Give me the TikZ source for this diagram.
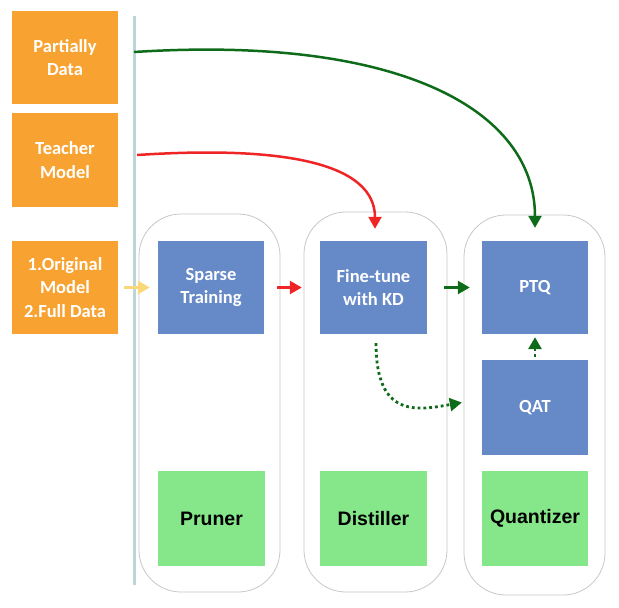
\documentclass[tikz,border=0pt]{standalone}
\usepackage{fontspec}
\newfontfamily\calfont{Carlito}
\newfontfamily\helfont{Liberation Sans}
\usetikzlibrary{arrows.meta}
\definecolor{orangebox}{HTML}{F8A331}
\definecolor{bluebox}{HTML}{6689C8}
\definecolor{greenbox}{HTML}{85E68A}
\definecolor{darkgreen}{HTML}{0E6B1A}
\definecolor{redline}{HTML}{EE2524}
\definecolor{yellowline}{HTML}{FAD87A}
\definecolor{barline}{HTML}{BCD6D8}
\tikzset{
  inbox/.style={fill=orangebox, text=white, font=\calfont\bfseries\fontsize{18.5}{23.5}\selectfont, align=center, minimum width=106pt, inner sep=0pt},
  stepbox/.style={fill=bluebox, text=white, font=\calfont\bfseries\fontsize{18.5}{23.5}\selectfont, align=center, minimum width=106pt, inner sep=0pt},
  toolbox/.style={fill=greenbox, text=black, font=\helfont\bfseries\fontsize{19.5}{22}\selectfont, minimum width=107pt, minimum height=95pt, inner sep=0pt},
  column/.style={draw=black!22, line width=0.8pt, rounded corners=42pt, inner sep=0pt},
  arr/.style={line width=2.5pt, -{Triangle[width=13pt,length=12pt]}},
  dotarr/.style={line width=2.8pt, dash pattern=on 2.8pt off 3pt, -{Triangle[width=13pt,length=12pt]}},
}
\begin{document}
\begin{tikzpicture}[x=1pt,y=-1pt]
\useasboundingbox (0,0) rectangle (619,608);
% containers
\node[column, minimum width=141pt, minimum height=378pt] (col1) at (209.5,403) {};
\node[column, minimum width=143pt, minimum height=380pt] (col2) at (375.5,402) {};
\node[column, minimum width=141pt, minimum height=380pt] (col3) at (534.5,405) {};
% vertical bar
\coordinate (bartop) at (134,16);
\coordinate (barbot) at (134,585);
\draw[barline, line width=3pt] (bartop) -- (barbot);
% inputs
\node[inbox, minimum height=93pt] (partial) at (65,57.5) {Partially\\Data};
\node[inbox, minimum height=94pt] (teacher) at (65,160) {Teacher\\Model};
\node[inbox, minimum height=93pt] (orig) at (65,287.5) {1.Original\\Model\\2.Full Data};
% steps
\node[stepbox, minimum height=93pt] (sparse) at (211,287.5) {Sparse\\Training};
\node[stepbox, minimum height=93pt, minimum width=107pt] (fine) at (373.5,287.5) {Fine-tune\\with KD};
\node[stepbox, minimum height=93pt] (ptq) at (535,287.5) {PTQ};
\node[stepbox, minimum height=95pt] (qat) at (535,407.5) {QAT};
% tools
\node[toolbox] (pruner) at (211.5,518.5) {Pruner};
\node[toolbox] (distiller) at (373.5,518.5) {Distiller};
\node[toolbox, minimum width=106pt] (quant) at (535,518.5) {Quantizer};
% arrows
\draw[arr, yellowline] ([xshift=6pt]orig.east) -- ([xshift=-8pt]sparse.west);
\draw[arr, redline] ([xshift=13pt]sparse.east) -- ([xshift=-18pt]fine.west);
\draw[arr, darkgreen] ([xshift=17pt]fine.east) -- ([xshift=-12pt]ptq.west);
\draw[dotarr, darkgreen] ([yshift=3pt]qat.north) -- ([yshift=-3pt]ptq.south);
\draw[dotarr, darkgreen] ([xshift=2.5pt,yshift=-9pt]fine.south) .. controls +(0,75) and +(-45,8) .. ([xshift=-20pt,yshift=5pt]qat.west);
\draw[arr, redline] ([xshift=19pt,yshift=5pt]teacher.east) .. controls (290,145) and (375,165) .. ([xshift=1.5pt,yshift=12pt]fine.north);
\draw[arr, darkgreen] ([xshift=16pt,yshift=5.5pt]partial.east) .. controls (400,35) and (535,110) .. ([yshift=13pt]ptq.north);
\end{tikzpicture}
\end{document}
